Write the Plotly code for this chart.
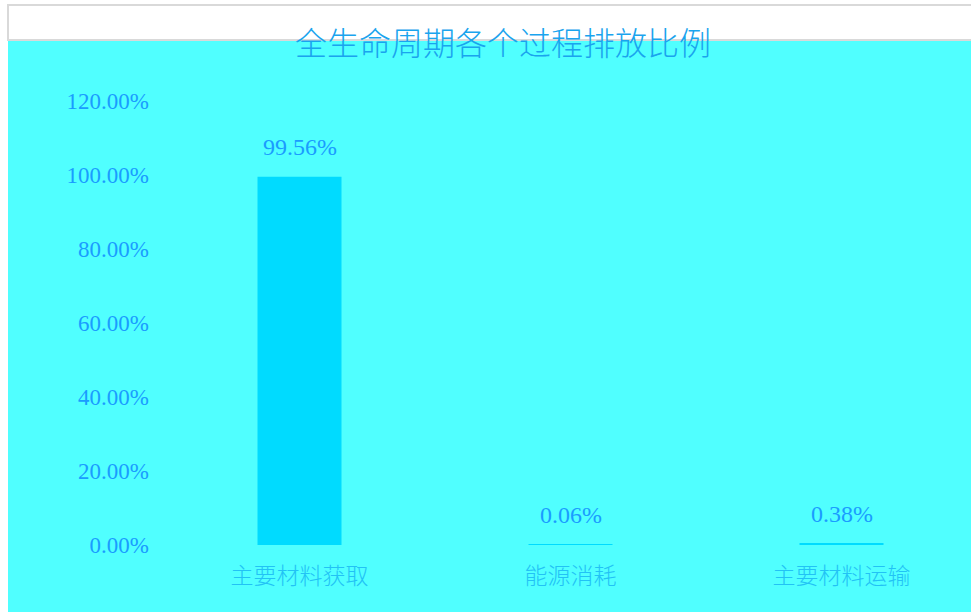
import plotly.graph_objects as go

categories = ["主要材料获取", "能源消耗", "主要材料运输"]
values = [0.9956, 0.0006, 0.0038]
title_text = "全生命周期各个过程排放比例"

W, H = 971, 612
ML, MR, MT, MB = 164, 0, 101, 67
PW, PH = W - ML - MR, H - MT - MB

def px_x(px):
    return (px - ML) / PW

def px_y(py):
    return (H - MB - py) / PH

CYAN = "#50FFFF"
TEXT = "#1A9CFF"
XTEXT = "#22C2F5"

fig = go.Figure()
fig.add_trace(go.Bar(
    x=categories, y=values, width=0.31,
    marker=dict(color="#00DBFF", line=dict(width=0)),
    hoverinfo="skip",
))

for c, v in zip(categories, values):
    fig.add_annotation(x=c, y=v, text=f"{v*100:.2f}%", showarrow=False,
                       yanchor="middle", yshift=30,
                       font=dict(family="Liberation Serif", size=24, color=TEXT))

fig.add_shape(type="rect", xref="paper", yref="paper", layer="below",
              x0=px_x(8), x1=px_x(W + 5), y0=px_y(H + 5), y1=px_y(40),
              fillcolor=CYAN, line=dict(width=0))
fig.add_shape(type="rect", xref="paper", yref="paper", layer="below",
              x0=px_x(8), x1=px_x(W + 20), y0=px_y(40), y1=px_y(5),
              fillcolor="white", line=dict(color="#D9D9D9", width=2))

fig.update_layout(
    width=W, height=H,
    margin=dict(l=ML, r=MR, t=MT, b=MB),
    paper_bgcolor="white", plot_bgcolor="rgba(0,0,0,0)",
    showlegend=False,
    title=dict(text=title_text, x=503 / W, xanchor="center", y=1 - 44 / H, yanchor="middle",
               font=dict(family="Noto Sans CJK SC", size=32, color="#1AA4EE", weight=300)),
    xaxis=dict(range=[-0.5, -0.5 + PW / 271], showgrid=False, showline=False, zeroline=False,
               ticks="", ticklabelstandoff=15,
               tickfont=dict(family="Noto Sans CJK SC", size=23, color=XTEXT, weight=300)),
    yaxis=dict(range=[0, 1.2], dtick=0.2, tickformat=".2%", showgrid=False, showline=False,
               zeroline=False, ticks="", ticklabelstandoff=14,
               tickfont=dict(family="Liberation Serif", size=23, color=TEXT)),
)

fig.write_html("out.html")
